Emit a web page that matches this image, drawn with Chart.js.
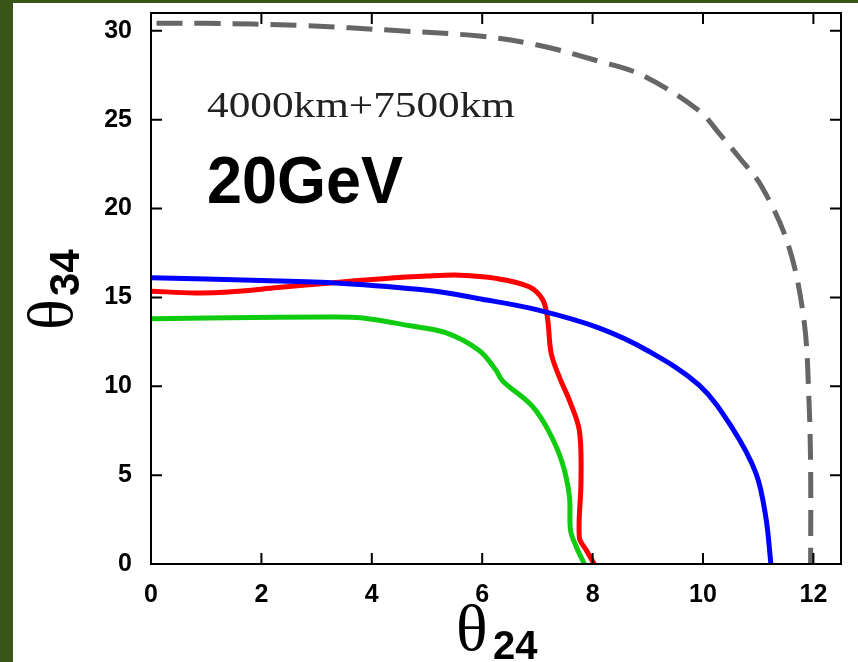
<!DOCTYPE html>
<html>
<head>
<meta charset="utf-8">
<script src="https://cdn.jsdelivr.net/npm/chart.js@4/dist/chart.umd.min.js"></script>
<style>
    html, body { margin: 0; padding: 0; background: #3a5316; }
    #wrap { position: absolute; left: 0; top: 0; width: 858px; height: 662px; }
</style>
</head>
<body>
<div id="wrap"><canvas id="myChart" width="858" height="662"></canvas></div>
<script>
// axis ticks
const xTicks = [0, 2, 4, 6, 8, 10, 12];
const yTicks = [0, 5, 10, 15, 20, 25, 30];

// gray dashed contour
const grayX = [0.1, 1, 2.7, 4.5, 5.95, 7.0, 8.1, 8.9, 9.93, 10.3, 10.65, 11.07, 11.55, 11.83, 11.92, 11.95, 11.95];
const grayY = [30.43, 30.42, 30.3, 30.0, 29.7, 29.2, 28.3, 27.5, 25.5, 24.2, 22.9, 21.2, 17.9, 13.7, 9.2, 5.3, 0];

// blue contour
const blueX = [0, 2, 3.4, 5, 6, 7, 8.1, 9, 9.93, 10.52, 10.96, 11.14, 11.23];
const blueY = [16.1, 15.95, 15.8, 15.4, 14.9, 14.3, 13.3, 12.0, 10.06, 7.7, 5.1, 2.6, 0];

// red contour
const redX = [0, 0.8, 1.4, 2.3, 3.2, 4.2, 5.0, 5.6, 6.25, 6.85, 7.09, 7.18, 7.25, 7.4, 7.58, 7.76, 7.79, 7.76, 7.88, 8.03];
const redY = [15.35, 15.25, 15.3, 15.55, 15.8, 16.05, 16.2, 16.25, 16.07, 15.6, 14.9, 13.9, 11.85, 10.5, 9.2, 7.5, 4.7, 1.5, 0.8, 0];

// green contour
const greenX = [0, 1.4, 3.2, 3.8, 4.7, 5.35, 5.95, 6.25, 6.37, 6.9, 7.2, 7.45, 7.58, 7.6, 7.7, 7.85];
const greenY = [13.8, 13.85, 13.9, 13.85, 13.4, 13.0, 12.0, 10.9, 10.3, 8.9, 7.5, 5.7, 3.8, 1.9, 1.0, 0];

const toPoints = (xs, ys) => xs.map((x, i) => ({ x: x, y: ys[i] }));

// draws the frame, inward ticks, axis titles and the annotations
const framePlugin = {
    id: 'frame',
    beforeDraw(chart) {
        const ctx = chart.ctx;
        ctx.save();
        ctx.fillStyle = '#3a5316';
        ctx.fillRect(0, 0, chart.width, chart.height);
        ctx.fillStyle = '#ffffff';
        ctx.fillRect(13, 3, chart.width - 13, chart.height - 3);
        ctx.restore();
    },
    afterDraw(chart) {
        const { ctx, chartArea } = chart;
        const xs = chart.scales.x, ys = chart.scales.y;
        const { left, right, top, bottom } = chartArea;
        ctx.save();
        ctx.strokeStyle = '#000';
        ctx.lineWidth = 2;
        ctx.strokeRect(left, top, right - left, bottom - top);

        ctx.beginPath();
        xTicks.forEach(v => {
            const px = xs.getPixelForValue(v);
            ctx.moveTo(px, bottom); ctx.lineTo(px, bottom - 11);
            ctx.moveTo(px, top); ctx.lineTo(px, top + 11);
        });
        yTicks.forEach(v => {
            const py = ys.getPixelForValue(v);
            ctx.moveTo(left, py); ctx.lineTo(left + 11, py);
            ctx.moveTo(right, py); ctx.lineTo(right - 11, py);
        });
        ctx.stroke();

        ctx.fillStyle = '#000';
        ctx.textBaseline = 'alphabetic';
        ctx.textAlign = 'left';

        // y title
        ctx.save();
        ctx.translate(72, 330);
        ctx.rotate(-Math.PI / 2);
        ctx.font = '64px "Liberation Serif"';
        ctx.fillText('θ', 0, 0);
        ctx.font = 'bold 42px "Liberation Sans"';
        ctx.fillText('34', 34, 7);
        ctx.restore();

        // x title
        ctx.font = '66px "Liberation Serif"';
        ctx.fillText('θ', 456, 650);
        ctx.font = 'bold 40px "Liberation Sans"';
        ctx.fillText('24', 493, 659);

        // annotations
        const fitText = (text, font, x, y, w) => {
            ctx.save();
            ctx.font = font;
            const m = ctx.measureText(text).width;
            ctx.translate(x, y);
            ctx.scale(w / m, 1);
            ctx.fillText(text, 0, 0);
            ctx.restore();
        };
        ctx.fillStyle = '#222';
        fitText('4000km+7500km', '35px "Liberation Serif"', 207, 117, 308);
        ctx.fillStyle = '#000';
        fitText('20GeV', 'bold 66px "Liberation Sans"', 207, 203, 196);
        ctx.restore();
    }
};

const lineSet = (label, xs, ys, color, dash) => ({
    label: label,
    data: toPoints(xs, ys),
    borderColor: color,
    backgroundColor: color,
    borderWidth: 5,
    borderDash: dash || [],
    borderCapStyle: 'butt',
    pointRadius: 0,
    tension: 0.35,
    fill: false
});

new Chart(document.getElementById('myChart'), {
    type: 'line',
    data: {
        datasets: [
            lineSet('gray', grayX, grayY, '#666666', [26, 12]),
            lineSet('blue', blueX, blueY, '#0000ff'),
            lineSet('red', redX, redY, '#ff0000'),
            lineSet('green', greenX, greenY, '#10cc10')
        ]
    },
    options: {
        responsive: false,
        animation: false,
        layout: { padding: { left: 0, top: 13, right: 17, bottom: 0 } },
        plugins: {
            legend: { display: false },
            tooltip: { enabled: false }
        },
        scales: {
            x: {
                type: 'linear',
                min: 0,
                max: 12.5,
                grid: { display: false, drawTicks: false },
                border: { display: false },
                afterBuildTicks: scale => { scale.ticks = xTicks.map(v => ({ value: v })); },
                afterFit: scale => {
                    scale.height = 98;
                    scale.paddingLeft = 0;
                    scale.paddingRight = 0;
                },
                ticks: {
                    padding: 16,
                    maxRotation: 0,
                    color: '#000',
                    font: { family: 'Liberation Sans', size: 25, weight: 'bold' }
                }
            },
            y: {
                type: 'linear',
                min: 0,
                max: 31,
                grid: { display: false, drawTicks: false },
                border: { display: false },
                afterBuildTicks: scale => { scale.ticks = yTicks.map(v => ({ value: v })); },
                afterFit: scale => {
                    scale.width = 151;
                    scale.paddingTop = 0;
                    scale.paddingBottom = 0;
                },
                ticks: {
                    padding: 19,
                    color: '#000',
                    font: { family: 'Liberation Sans', size: 25, weight: 'bold' }
                }
            }
        }
    },
    plugins: [framePlugin]
});
</script>
</body>
</html>
